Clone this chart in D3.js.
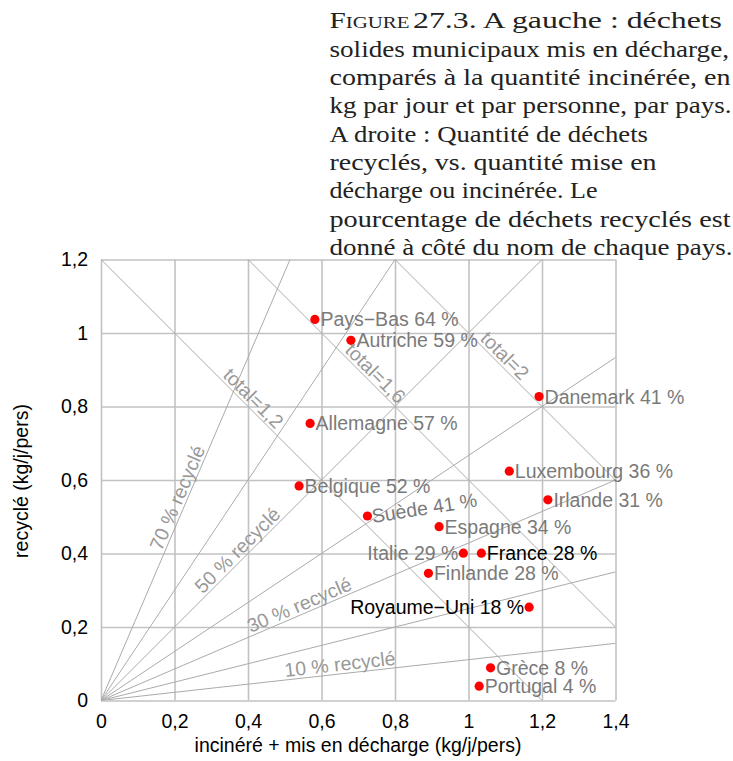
<!DOCTYPE html>
<html>
<head>
<meta charset="utf-8">
<script src="https://cdn.jsdelivr.net/npm/d3@7"></script>
<style>
  body { margin: 0; background: #fff; }
  svg { display: block; }
</style>
</head>
<body>
<script>
// country values (kg per day and per person)
var countries = ['Pays−Bas', 'Autriche', 'Allemagne', 'Belgique', 'Suède', 'Danemark',
  'Luxembourg', 'Irlande', 'Espagne', 'Italie', 'France', 'Finlande', 'Royaume−Uni',
  'Grèce', 'Portugal'];
var burnedOrDumped = [0.582, 0.680, 0.569, 0.539, 0.725, 1.192, 1.111, 1.216, 0.920,
  0.986, 1.035, 0.891, 1.165, 1.060, 1.029];
var recycledAmount = [1.037, 0.980, 0.754, 0.584, 0.502, 0.827, 0.624, 0.546, 0.473,
  0.401, 0.401, 0.346, 0.254, 0.089, 0.039];
var recycledPercent = [64, 59, 57, 52, 41, 41, 36, 31, 34, 29, 28, 28, 18, 8, 4];

// guide lines
var shareLines = [0.1, 0.2, 0.3, 0.4, 0.5, 0.6, 0.7];
var shareLabels = [0.7, 0.5, 0.3, 0.1];
var totalLines = [1.2, 1.6, 2];

var xTicks = [0, 0.2, 0.4, 0.6, 0.8, 1, 1.2, 1.4];
var yTicks = [0, 0.2, 0.4, 0.6, 0.8, 1, 1.2];

var caption = [
  'A gauche : déchets',
  'solides municipaux mis en décharge,',
  'comparés à la quantité incinérée, en',
  'kg par jour et par personne, par pays.',
  'A droite : Quantité de déchets',
  'recyclés, vs. quantité mise en',
  'décharge ou incinérée. Le',
  'pourcentage de déchets recyclés est',
  'donné à côté du nom de chaque pays.'
];
// where each caption line ends in the original (ragged right)
var captionEnds = [722, 729, 730.5, 731.5, 648, 656.5, 597.5, 730.5, 732.5];

// labels drawn on the left of their dot, and in black
var leftSide = ['Italie', 'Royaume−Uni'];
var darkSide = ['France', 'Royaume−Uni'];

var width = 733, height = 761;
var sans = '"Liberation Sans", Arial, sans-serif';
var fs = 19.5;

var svg = d3.select('body').append('svg')
  .attr('width', width)
  .attr('height', height);

var x = d3.scaleLinear().domain([0, 1.4]).range([101, 615.5]);
var y = d3.scaleLinear().domain([0, 1.2]).range([700.5, 259.5]);

var comma = function(d) { return d3.format('~g')(d).replace('.', ','); };

// grid + tick labels
var xAxis = svg.append('g')
  .attr('transform', 'translate(0,' + y(0) + ')')
  .call(d3.axisBottom(x).tickValues(xTicks).tickSize(-(y(0) - y(1.2))).tickPadding(13.5).tickFormat(comma));
var yAxis = svg.append('g')
  .attr('transform', 'translate(' + x(0) + ',0)')
  .call(d3.axisLeft(y).tickValues(yTicks).tickSize(-(x(1.4) - x(0))).tickPadding(13).tickFormat(comma));

[xAxis, yAxis].forEach(function(a) {
  a.select('.domain').remove();
  a.selectAll('.tick line').attr('stroke', '#c2c2c2').attr('stroke-width', 1.6);
  a.selectAll('.tick text')
    .attr('font-family', sans)
    .attr('font-size', fs)
    .attr('fill', '#000');
});

// clip for the guide lines
svg.append('clipPath').attr('id', 'plot')
  .append('rect')
  .attr('x', x(0)).attr('y', y(1.2))
  .attr('width', x(1.4) - x(0)).attr('height', y(0) - y(1.2));

var guides = svg.append('g').attr('clip-path', 'url(#plot)');

guides.selectAll('.share')
  .data(shareLines)
  .enter().append('line')
    .attr('x1', x(0)).attr('y1', y(0))
    .attr('x2', x(1.4))
    .attr('y2', function(s) { return y(1.4 * s / (1 - s)); })
    .attr('stroke', '#aaa').attr('stroke-width', 1);

guides.selectAll('.total')
  .data(totalLines)
  .enter().append('line')
    .attr('x1', x(0)).attr('y1', function(t) { return y(t); })
    .attr('x2', function(t) { return x(t); }).attr('y2', y(0))
    .attr('stroke', '#aaa').attr('stroke-width', 1);

// labels along the guide lines
var shareAt = { 0.7: 0.232, 0.5: 0.39, 0.3: 0.55, 0.1: 0.653 };
svg.selectAll('.shareLabel')
  .data(shareLabels)
  .enter().append('text')
    .attr('transform', function(s) {
      var k = s / (1 - s), px = shareAt[s];
      var ang = -Math.atan(k) * 180 / Math.PI;
      return 'translate(' + x(px) + ',' + y(px * k) + ') rotate(' + ang + ')';
    })
    .attr('dy', -3)
    .attr('text-anchor', 'middle')
    .attr('font-family', sans).attr('font-size', fs)
    .attr('fill', '#999')
    .text(function(s) { return Math.round(s * 100) + ' % recyclé'; });

var totalAt = { 1.2: 0.396, 1.6: 0.728, 2: 1.08 };
svg.selectAll('.totalLabel')
  .data(totalLines)
  .enter().append('text')
    .attr('transform', function(t) {
      var px = totalAt[t];
      return 'translate(' + x(px) + ',' + y(t - px) + ') rotate(45)';
    })
    .attr('dy', -3)
    .attr('text-anchor', 'middle')
    .attr('font-family', sans).attr('font-size', fs)
    .attr('fill', '#999')
    .text(function(t) { return 'total=' + comma(t); });

// country dots and names
var pts = countries.map(function(c, i) {
  return { name: c, vx: burnedOrDumped[i], vy: recycledAmount[i], pct: recycledPercent[i] };
});

svg.selectAll('.dot')
  .data(pts)
  .enter().append('circle')
    .attr('cx', function(d) { return x(d.vx); })
    .attr('cy', function(d) { return y(d.vy); })
    .attr('r', 4.6)
    .attr('fill', '#ff0000');

svg.selectAll('.name')
  .data(pts)
  .enter().append('text')
    .attr('transform', function(d) {
      var left = leftSide.indexOf(d.name) >= 0;
      var t = 'translate(' + (x(d.vx) + (left ? -5 : 5.5)) + ',' + (y(d.vy) + 7) + ')';
      // the Swedish label is tilted in the original
      if (d.name === 'Suède') t += ' rotate(-9)';
      return t;
    })
    .attr('text-anchor', function(d) { return leftSide.indexOf(d.name) >= 0 ? 'end' : 'start'; })
    .attr('font-family', sans).attr('font-size', fs)
    .attr('fill', function(d) { return darkSide.indexOf(d.name) >= 0 ? '#000' : '#7a7a7a'; })
    .text(function(d) { return d.name + ' ' + d.pct + ' %'; });

// axis titles
svg.append('text')
  .attr('x', 358).attr('y', 752)
  .attr('text-anchor', 'middle')
  .attr('font-family', sans).attr('font-size', fs)
  .text('incinéré + mis en décharge (kg/j/pers)');

svg.append('text')
  .attr('transform', 'translate(27.5,481) rotate(-90)')
  .attr('text-anchor', 'middle')
  .attr('font-family', sans).attr('font-size', fs)
  .text('recyclé (kg/j/pers)');

// caption, each line scaled to the width it has in the original
var capLeft = 329.5;
var cap = svg.append('g')
  .attr('font-family', '"Liberation Serif", "Times New Roman", serif')
  .attr('font-size', 23.8)
  .attr('fill', '#222');

var baseY = function(i) { return 28.3 + i * 28.35; };

// "Figure" in small caps, set apart from the rest of the first line
cap.append('text')
  .attr('x', capLeft).attr('y', baseY(0))
  .attr('font-variant', 'small-caps')
  .attr('textLength', 80).attr('lengthAdjust', 'spacingAndGlyphs')
  .text('Figure');

cap.selectAll('.line')
  .data(caption)
  .enter().append('text')
    .attr('x', function(d, i) { return i === 0 ? 413 : capLeft; })
    .attr('y', function(d, i) { return baseY(i); })
    .attr('textLength', function(d, i) { return captionEnds[i] - (i === 0 ? 413 : capLeft); })
    .attr('lengthAdjust', 'spacingAndGlyphs')
    .text(function(d, i) { return i === 0 ? '27.3. ' + d : d; });
</script>
</body>
</html>
